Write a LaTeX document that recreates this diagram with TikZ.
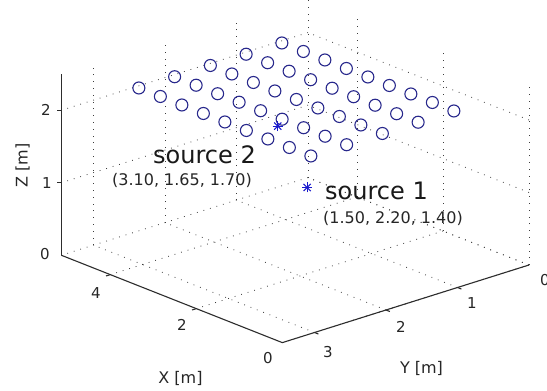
\documentclass[tikz,border=0pt]{standalone}
\usepackage{fontspec}
\setmainfont{DejaVu Sans}
\definecolor{micblue}{RGB}{40,40,140}
\definecolor{starblue}{RGB}{25,25,205}
\definecolor{axisgray}{RGB}{45,45,45}
\definecolor{gridgray}{RGB}{60,60,60}
\begin{document}
\begin{tikzpicture}[x=1pt,y=1pt,
  mic/.style={circle, draw=micblue, line width=1.1pt, minimum size=12pt, inner sep=0pt},
  gridline/.style={draw=gridgray, line width=0.8pt, dash pattern=on 0.8pt off 6pt},
  axisline/.style={draw=axisgray, line width=1.1pt},
  ticklab/.style={font=\fontsize{15}{18}\selectfont, text=black!85, inner sep=0pt},
  axlab/.style={font=\fontsize{16}{19}\selectfont, text=black!85, inner sep=0pt},
  srclab/.style={font=\fontsize{24}{28}\selectfont, text=black!90, inner sep=0pt},
  coordlab/.style={font=\fontsize{16}{19}\selectfont, text=black!85, inner sep=0pt},
  starline/.style={draw=starblue, line width=1pt},
]
\useasboundingbox (0,0) rectangle (547,391);
\clip (0,0) rectangle (547,391);
\fill[white] (0,0) rectangle (547,391);
\def\gxm{5.14}\def\gym{3.45}\def\gzm{2.5}
\begin{scope}[shift={(529pt,126pt)}, x={(-43pt,17pt)}, y={(-71.5pt,-22.5pt)}, z={(0pt,72.5pt)}]
  % grid lines (floor and back walls)
  \foreach \gx in {0,2,4} {
    \draw[gridline] (\gx,0,0) -- (\gx,\gym,0);
    \draw[gridline] (\gx,0,0) -- (\gx,0,\gzm);
  }
  \foreach \gy in {0,1,2,3} {
    \draw[gridline] (0,\gy,0) -- (\gxm,\gy,0);
    \draw[gridline] (\gxm,\gy,0) -- (\gxm,\gy,\gzm);
  }
  \foreach \gz in {0,1,2} {
    \draw[gridline] (0,0,\gz) -- (\gxm,0,\gz);
    \draw[gridline] (\gxm,0,\gz) -- (\gxm,\gym,\gz);
  }
  % axes
  \coordinate (cF) at (0,\gym,0);
  \coordinate (cL) at (\gxm,\gym,0);
  \coordinate (cR) at (0,0,0);
  \coordinate (cT) at (\gxm,\gym,\gzm);
  \draw[axisline] (cL) -- (cF) -- (cR);
  \draw[axisline] (cL) -- (cT);
  \foreach \tx in {2,4} \draw[axisline] (\tx,\gym,0) -- (\tx,\gym+0.06,0);
  \foreach \ty in {1,2,3} \draw[axisline] (0,\ty,0) -- (-0.09,\ty,0);
  \foreach \tz in {1,2} \draw[axisline] (\gxm,\gym,\tz) -- ++(-4pt,0pt);
  % microphone array
  \foreach \i in {0,...,8} {
    \foreach \j in {0,...,4} {
      \node[mic] (m\i-\j) at ({4.5-0.5*\i},{0.75+0.5*\j},2.24) {};
    }
  }
  % sources
  \coordinate (s2) at (3.10,1.65,1.70);
  \coordinate (s1) at (1.50,2.20,1.40);
\end{scope}
% source markers
\foreach \s in {s1,s2} {
  \draw[starline] ([shift={(-5pt,0pt)}]\s) -- ([shift={(5pt,0pt)}]\s);
  \draw[starline] ([shift={(0pt,-5pt)}]\s) -- ([shift={(0pt,5pt)}]\s);
  \draw[starline] ([shift={(-3.6pt,-3.6pt)}]\s) -- ([shift={(3.6pt,3.6pt)}]\s);
  \draw[starline] ([shift={(-3.6pt,3.6pt)}]\s) -- ([shift={(3.6pt,-3.6pt)}]\s);
}
% labels
\node[srclab] (l2) at (204.5,236) {source 2};
\node[coordlab] (c2) at (182,211) {(3.10, 1.65, 1.70)};
\node[srclab] (l1) at (376.5,200) {source 1};
\node[coordlab] (c1) at (393,173) {(1.50, 2.20, 1.40)};
% axis labels
\node[axlab] (xl) at (180.5,13) {X [m]};
\node[axlab] (yl) at (421.5,22.5) {Y [m]};
\node[axlab, rotate=90] (zl) at (22.5,225.5) {Z [m]};
% tick labels
\node[ticklab] (z2) at (46,281) {2};
\node[ticklab] (z1) at (47,208) {1};
\node[ticklab] (z0) at (45,137) {0};
\node[ticklab] (x4) at (96,98) {4};
\node[ticklab] (x2) at (182,66) {2};
\node[ticklab] (x0) at (268,33) {0};
\node[ticklab] (y3) at (328,39) {3};
\node[ticklab] (y2) at (401,64) {2};
\node[ticklab] (y1) at (472,88) {1};
\node[ticklab] (y0) at (545,111) {0};
\end{tikzpicture}
\end{document}
